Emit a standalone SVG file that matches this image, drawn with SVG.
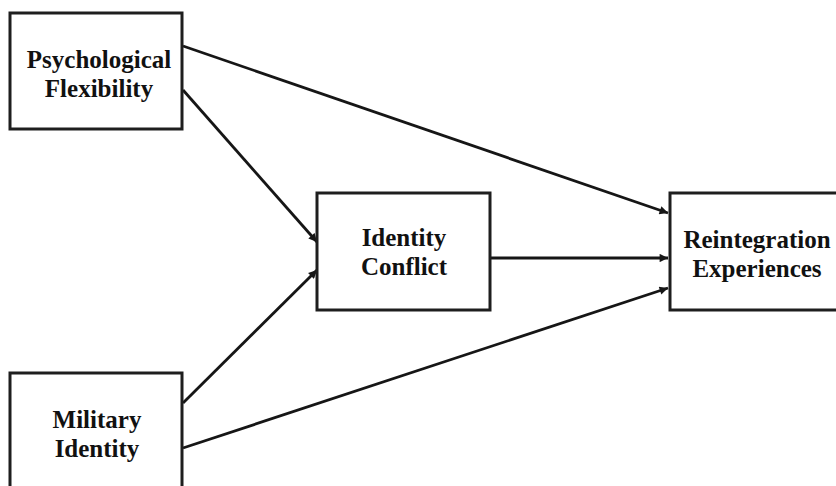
<svg xmlns="http://www.w3.org/2000/svg" width="836" height="486" viewBox="0 0 836 486">
  <style>
    .box { fill: #ffffff; stroke: #1e1e1e; stroke-width: 3; }
    .label { font-family: "Liberation Serif", "Times New Roman", serif; font-weight: bold; font-size: 25px; fill: #111111; text-anchor: middle; }
    .edge { stroke: #161616; stroke-width: 2.8; fill: none; }
  </style>
  <defs>
    <marker id="arrow" viewBox="0 0 10 10" refX="10" refY="5" markerWidth="3.6" markerHeight="3" markerUnits="strokeWidth" orient="auto">
      <path d="M0,0 L10,5 L0,10 z" fill="#161616"/>
    </marker>
  </defs>
  <rect width="836" height="486" fill="#ffffff"/>

  <g id="connectors">
    <line class="edge" x1="183" y1="46" x2="668" y2="213" marker-end="url(#arrow)"/>
    <line class="edge" x1="183" y1="90" x2="317" y2="242" marker-end="url(#arrow)"/>
    <line class="edge" x1="183" y1="403" x2="317" y2="270" marker-end="url(#arrow)"/>
    <line class="edge" x1="183" y1="448" x2="668" y2="288" marker-end="url(#arrow)"/>
    <line class="edge" x1="491" y1="258" x2="668" y2="258" marker-end="url(#arrow)"/>
  </g>

  <g id="psychological-flexibility">
    <rect class="box" x="10" y="13" width="172" height="116"/>
    <text class="label" x="99" y="68">Psychological</text>
    <text class="label" x="99" y="97">Flexibility</text>
  </g>

  <g id="identity-conflict">
    <rect class="box" x="317" y="193" width="173" height="117"/>
    <text class="label" x="404" y="246">Identity</text>
    <text class="label" x="404" y="275">Conflict</text>
  </g>

  <g id="reintegration-experiences">
    <rect class="box" x="670" y="193" width="180" height="117"/>
    <text class="label" x="757" y="248">Reintegration</text>
    <text class="label" x="757" y="277">Experiences</text>
  </g>

  <g id="military-identity">
    <rect class="box" x="10" y="373" width="172" height="130"/>
    <text class="label" x="97" y="428">Military</text>
    <text class="label" x="97" y="457">Identity</text>
  </g>
</svg>
